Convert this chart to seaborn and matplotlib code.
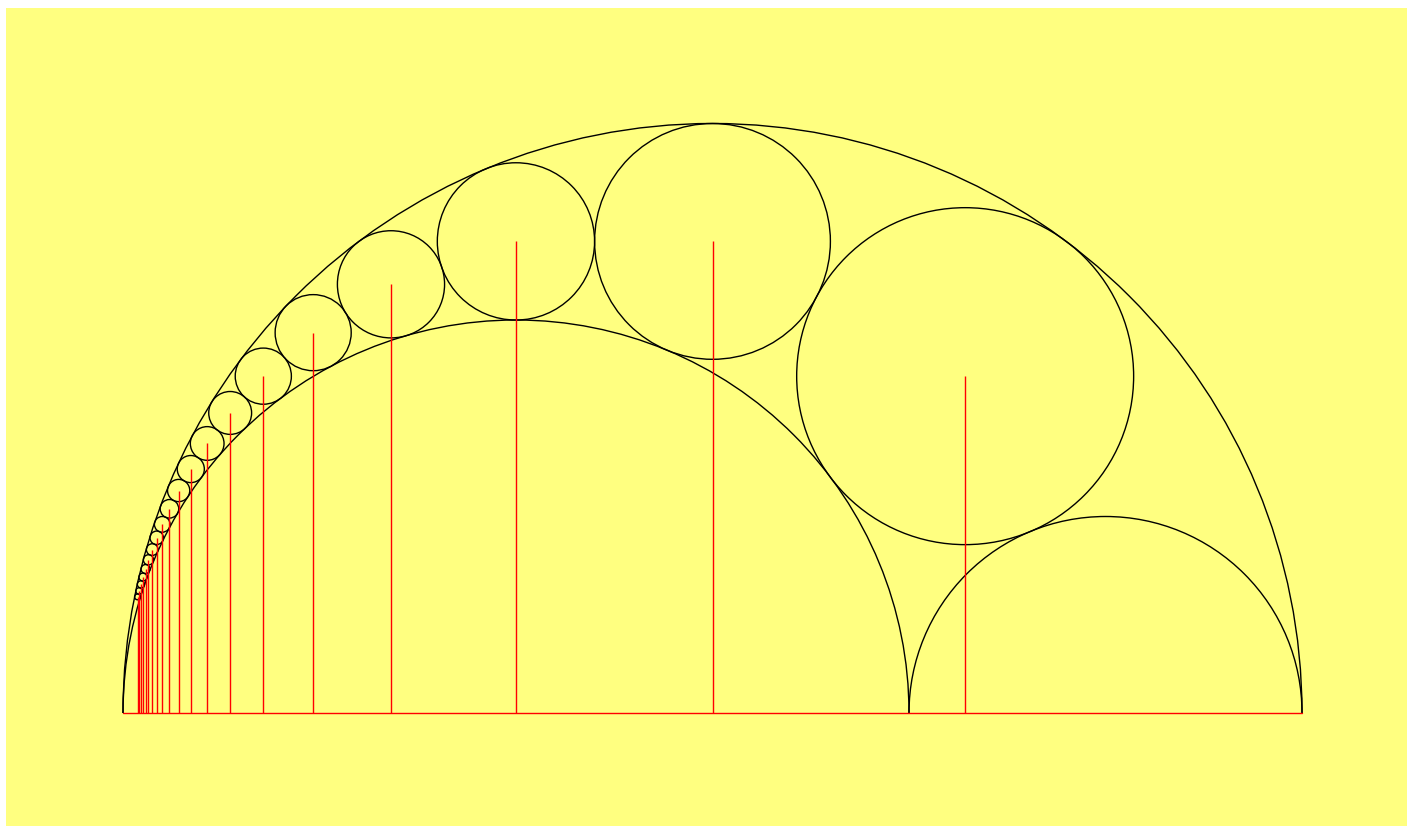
import seaborn as sns
import pandas as pd
import matplotlib.pyplot as plt
from matplotlib.patches import Arc, Circle

# arbelos: outer diameter AB = 1, left inner diameter AC = 2/3
semi_cx = [0.5, 1 / 3, 5 / 6]
semi_r = [0.5, 1 / 3, 1 / 6]

# Pappus chain circles (n = 1..20)
chain_x = [0.7143, 0.5, 0.3333, 0.2273, 0.1613, 0.1190, 0.0909, 0.0714, 0.0575, 0.0472,
           0.0394, 0.0333, 0.0286, 0.0248, 0.0216, 0.0191, 0.0169, 0.0152, 0.0136, 0.0123]
chain_y = [0.2857, 0.4, 0.4, 0.3636, 0.3226, 0.2857, 0.2545, 0.2286, 0.2069, 0.1887,
           0.1732, 0.16, 0.1486, 0.1386, 0.1299, 0.1221, 0.1153, 0.1091, 0.1035, 0.0985]
chain_r = [0.1429, 0.1, 0.0667, 0.04545, 0.03226, 0.02381, 0.01818, 0.01429, 0.01149, 0.00943,
           0.00787, 0.00667, 0.00571, 0.00495, 0.00433, 0.00382, 0.00339, 0.00303, 0.00272, 0.00246]

df = pd.DataFrame({"x": chain_x, "y": chain_y, "r": chain_r})

sns.set_theme(style="white")
fig = plt.figure(figsize=(14.07, 8.26), dpi=100, facecolor="white")
ax = fig.add_axes([6 / 1407, 0, 1401 / 1407, 818 / 826])
ax.set_facecolor("#ffff80")

# baseline
sns.lineplot(x=[0, 1], y=[0, 0], color="red", linewidth=1, ax=ax)

for cx, r in zip(semi_cx, semi_r):
    ax.add_patch(Arc((cx, 0), 2 * r, 2 * r, theta1=0, theta2=180,
                     color="black", linewidth=1))

for _, row in df.iterrows():
    ax.add_patch(Circle((row.x, row.y), row.r, fill=False,
                        edgecolor="black", linewidth=1))

ax.vlines(df.x, 0, df.y, color="red", linewidth=1)

ax.set_xlim((6 - 123) / 1179, (1407 - 123) / 1179)
ax.set_ylim(-113 / 1179, 705 / 1179)
ax.set_aspect("equal")
ax.set_xticks([])
ax.set_yticks([])
sns.despine(ax=ax, left=True, bottom=True)

fig.savefig("out.png", dpi=100, facecolor="white")
